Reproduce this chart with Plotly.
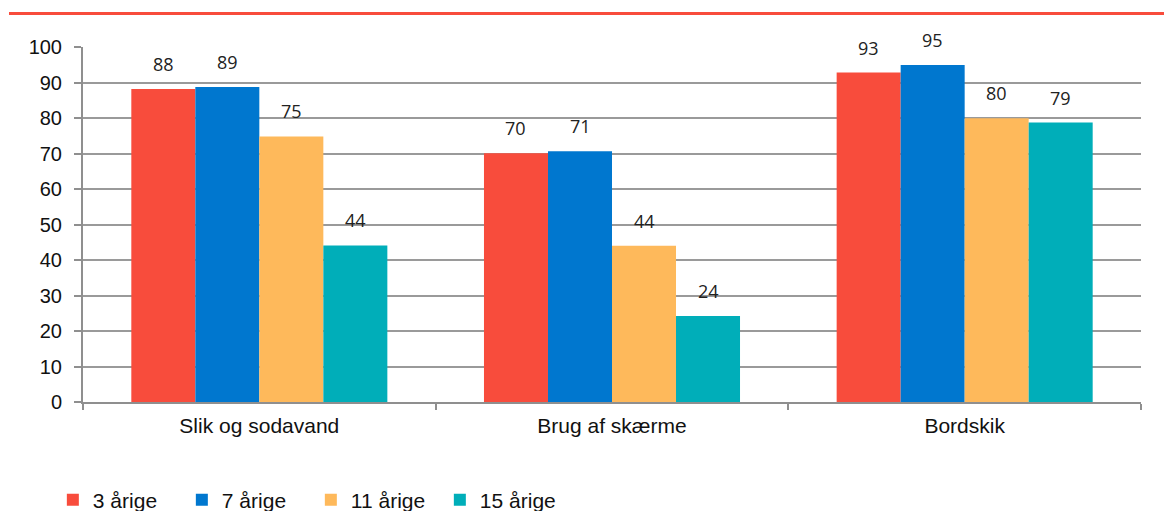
import plotly.graph_objects as go

categories = ["Slik og sodavand", "Brug af skærme", "Bordskik"]
series_names = ["3 årige", "7 årige", "11 årige", "15 årige"]
values_3 = [88.2, 70.1, 92.8]
values_7 = [88.7, 70.6, 94.9]
values_11 = [74.8, 44.0, 79.9]
values_15 = [44.1, 24.2, 78.7]
colors = ["#F84C3C", "#0077CF", "#FEB95B", "#00AEB9"]
y_ticks = list(range(0, 101, 10))

all_values = [values_3, values_7, values_11, values_15]
BARGAP = 0.274
n_series = len(all_values)
slot = (1 - BARGAP) / n_series

fig = go.Figure()
annotations = []
for j, (name, vals, col) in enumerate(zip(series_names, all_values, colors)):
    fig.add_trace(go.Bar(
        x=categories, y=vals, name=name, marker_color=col,
        marker_line_width=0,
    ))
    for i, v in enumerate(vals):
        annotations.append(dict(
            x=i + (j - (n_series - 1) / 2) * slot, y=v, xref="x", yref="y",
            text=f"{round(v):d}", showarrow=False,
            xanchor="center", yanchor="middle", yshift=25,
            font=dict(family="Open Sans", size=18, color="#222"),
        ))

fig.update_layout(
    width=1164, height=511,
    margin=dict(l=83, r=23, t=47, b=109, autoexpand=False),
    paper_bgcolor="white", plot_bgcolor="white",
    barmode="group", bargap=BARGAP, bargroupgap=0,
    font=dict(family="Liberation Sans, Arial", size=20, color="#111"),
    showlegend=True,
    legend=dict(orientation="h", x=-0.0285, y=-0.276, xanchor="left", yanchor="middle",
                font=dict(size=21), entrywidth=84, entrywidthmode="pixels",
                itemwidth=30, traceorder="normal", tracegroupgap=0),
    annotations=annotations,
    shapes=[dict(type="line", xref="paper", yref="paper",
                 x0=(9 - 83) / 1058, x1=(1164 - 83) / 1058,
                 y0=(402 - 13.5) / 355, y1=(402 - 13.5) / 355,
                 line=dict(color="#F84C3C", width=3))],
)
fig.update_xaxes(
    automargin=False,
    showline=True, linecolor="#8f8f8f", linewidth=2,
    ticks="outside", tickson="boundaries", ticklen=6, tickcolor="#8f8f8f", tickwidth=2,
    tickfont=dict(size=21), showgrid=False, ticklabelstandoff=4,
)
fig.update_yaxes(
    automargin=False,
    range=[0, 100], tickvals=y_ticks,
    showline=True, linecolor="#8f8f8f", linewidth=2,
    ticks="outside", ticklen=7, tickcolor="#8f8f8f", tickwidth=2,
    showgrid=True, gridcolor="#9a9a9a", gridwidth=1.5,
    tickfont=dict(size=20), zeroline=False, ticklabelstandoff=8,
)

fig.write_html(
    "out.html",
    config={"displayModeBar": False},
    post_script="document.body.style.margin='0';document.body.style.overflow='hidden';",
)
